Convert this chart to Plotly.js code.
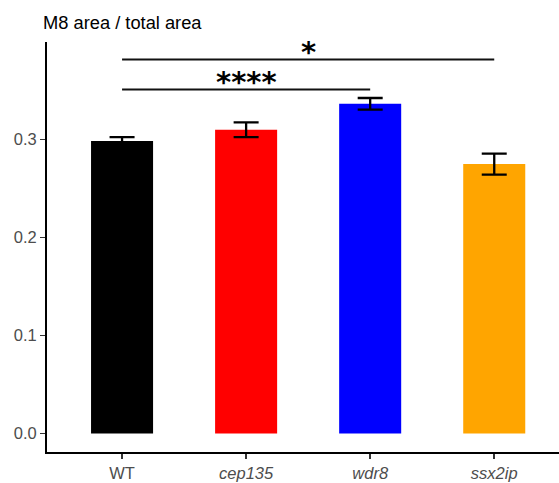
<!DOCTYPE html>
<html>
<head>
<meta charset="utf-8">
<script src="https://cdn.plot.ly/plotly-3.0.1.min.js"></script>
<style>html,body{margin:0;padding:0;background:#fff;}#chart{width:559px;height:483px;}</style>
</head>
<body>
<div id="chart"></div>
<script>
// ---- data ----
var categories = ["WT", "cep135", "wdr8", "ssx2ip"];
var tickLabels = ["WT", "<i>cep135</i>", "<i>wdr8</i>", "<i>ssx2ip</i>"];
var meanValues = [0.2983, 0.3098, 0.3362, 0.2747];
var seValues = [0.0040, 0.0075, 0.0059, 0.0107];
var barColors = ["#000000", "#FF0000", "#0000FF", "#FFA500"];
var yTicks = [0.0, 0.1, 0.2, 0.3];
var compStart = ["WT", "WT"];
var compEnd = ["wdr8", "ssx2ip"];
var compY = [0.3507, 0.3813];
var compLabel = ["****", "*"];

var FONT = "Liberation Sans, Arial, sans-serif";

var trace = {
  type: "bar",
  x: categories,
  y: meanValues,
  width: 0.5,
  marker: {color: barColors, line: {width: 0}},
  error_y: {type: "data", array: seValues, visible: true, color: "#000000", thickness: 2.3, width: 12.5},
  hoverinfo: "skip"
};

var shapes = [];
var annotations = [];
for (var i = 0; i < compY.length; i++) {
  var a = categories.indexOf(compStart[i]);
  var b = categories.indexOf(compEnd[i]);
  shapes.push({type: "line", xref: "x", yref: "y", x0: a, x1: b, y0: compY[i], y1: compY[i],
    line: {color: "#111111", width: 2}});
  annotations.push({xref: "x", yref: "y", x: (a + b) / 2, y: compY[i], text: "<b>" + compLabel[i] + "</b>",
    showarrow: false, xanchor: "center", yanchor: "bottom", yshift: -11,
    font: {family: "DejaVu Sans, sans-serif", size: 29, color: "#000000"}});
}

var layout = {
  width: 559, height: 483,
  margin: {l: 47.3, r: 0, t: 41.7, b: 31.3, pad: 0},
  paper_bgcolor: "#ffffff", plot_bgcolor: "#ffffff",
  showlegend: false,
  bargap: 0.5,
  title: {text: "M8 area / total area", xref: "container", yref: "container",
    x: 43 / 559, xanchor: "left", y: 1 - 23 / 483, yanchor: "middle",
    font: {family: FONT, size: 18.3, color: "#000000"}},
  xaxis: {
    type: "category", categoryorder: "array", categoryarray: categories,
    range: [-0.605, 3.522], tickmode: "array", tickvals: categories, ticktext: tickLabels,
    showline: true, linecolor: "#000000", linewidth: 2, mirror: false,
    ticks: "outside", ticklen: 5, tickwidth: 1.5, tickcolor: "#333333",
    tickfont: {family: FONT, size: 16.5, color: "#4D4D4D"},
    showgrid: false, zeroline: false, fixedrange: true
  },
  yaxis: {
    range: [-0.0188, 0.3992], tickmode: "array", tickvals: yTicks,
    tickformat: ".1f",
    showline: true, linecolor: "#000000", linewidth: 2,
    ticks: "outside", ticklen: 5, tickwidth: 1.5, tickcolor: "#333333",
    tickfont: {family: FONT, size: 16.5, color: "#4D4D4D"},
    showgrid: false, zeroline: false, fixedrange: true
  },
  shapes: shapes,
  annotations: annotations
};

Plotly.newPlot("chart", [trace], layout, {displayModeBar: false, staticPlot: true});
</script>
</body>
</html>
